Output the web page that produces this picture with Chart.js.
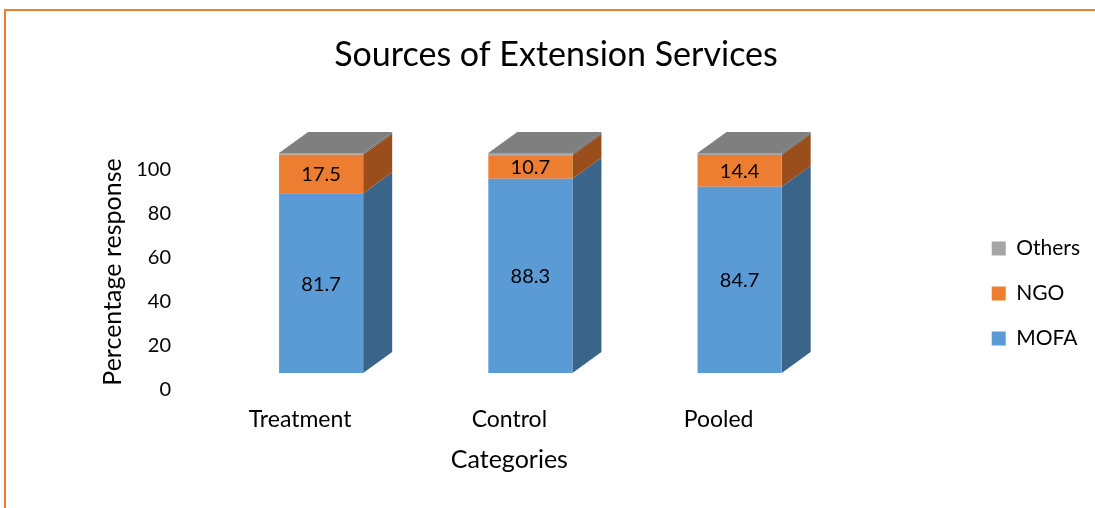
<!DOCTYPE html>
<html>
<head>
<meta charset="utf-8">
<script src="https://cdn.jsdelivr.net/npm/chart.js@4.4.1/dist/chart.umd.min.js"></script>
<style>
  html, body { margin: 0; padding: 0; background: #fff; }
  #wrap { position: relative; width: 1095px; height: 508px; overflow: hidden; }
  #frame { position: absolute; left: 4px; top: 9px; width: 1200px; height: 600px;
           border-left: 2px solid #ED7D31; border-top: 2px solid #ED7D31; }
  canvas { position: absolute; left: 0; top: 0; }
</style>
</head>
<body>
<div id="wrap">
  <div id="frame"></div>
  <canvas id="myChart" width="1095" height="508"></canvas>
</div>
<script>
const categories = ['Treatment', 'Control', 'Pooled'];
const mofa = [81.7, 88.3, 84.7];
const ngo = [17.5, 10.7, 14.4];
const others = [0.8, 1.0, 0.9];
const yTicks = [0, 20, 40, 60, 80, 100];
const xTitle = 'Categories';
const yTitle = 'Percentage response';

const fontName = 'Lato';
const depthX = 29, depthY = 21;
const labelShift = -21;
const sideColors = ['#3A6489', '#9A4E1C', '#6E6E6E'];
const topColor = '#7F7F7F';

// draws the side and top faces so the columns look like boxes,
// plus value labels and the two axis titles
const boxFaces = {
  id: 'boxFaces',
  beforeDatasetsDraw(chart) {
    const ctx = chart.ctx;
    const last = chart.data.datasets.length - 1;
    ctx.save();
    chart.data.datasets.forEach((ds, i) => {
      chart.getDatasetMeta(i).data.forEach(bar => {
        const p = bar.getProps(['x', 'y', 'base', 'width'], true);
        const l = p.x - p.width / 2, r = p.x + p.width / 2;
        ctx.fillStyle = sideColors[i];
        ctx.beginPath();
        ctx.moveTo(r, p.y);
        ctx.lineTo(r + depthX, p.y - depthY);
        ctx.lineTo(r + depthX, p.base - depthY);
        ctx.lineTo(r, p.base);
        ctx.closePath();
        ctx.fill();
        if (i === last) {
          ctx.fillStyle = topColor;
          ctx.beginPath();
          ctx.moveTo(l, p.y);
          ctx.lineTo(l + depthX, p.y - depthY);
          ctx.lineTo(r + depthX, p.y - depthY);
          ctx.lineTo(r, p.y);
          ctx.closePath();
          ctx.fill();
        }
      });
    });
    ctx.restore();
  },
  afterDatasetsDraw(chart) {
    const ctx = chart.ctx;
    ctx.save();
    ctx.font = '20px ' + fontName;
    ctx.fillStyle = '#000';
    ctx.textAlign = 'center';
    ctx.textBaseline = 'middle';
    [0, 1].forEach(i => {
      const values = chart.data.datasets[i].data;
      chart.getDatasetMeta(i).data.forEach((bar, j) => {
        const p = bar.getProps(['x', 'y', 'base'], true);
        ctx.fillText(values[j].toFixed(1), p.x, (p.y + p.base) / 2 + 1);
      });
    });
    ctx.restore();
  },
  afterDraw(chart) {
    const {ctx, chartArea: a, scales} = chart;
    ctx.save();
    ctx.font = '25px ' + fontName;
    ctx.fillStyle = '#000';
    ctx.textAlign = 'center';
    ctx.textBaseline = 'middle';
    ctx.fillText(xTitle, (a.left + a.right) / 2 + labelShift, scales.x.bottom - 48);
    ctx.translate(scales.y.left + 91, (a.top + a.bottom) / 2 + 20);
    ctx.rotate(-Math.PI / 2);
    ctx.fillText(yTitle, 0, 0);
    ctx.restore();
  }
};

const ctx = document.getElementById('myChart');

new Chart(ctx, {
  type: 'bar',
  data: {
    labels: categories,
    datasets: [
      { label: 'MOFA', data: mofa, backgroundColor: '#5B9BD5' },
      { label: 'NGO', data: ngo, backgroundColor: '#ED7D31' },
      { label: 'Others', data: others, backgroundColor: '#A5A5A5' }
    ]
  },
  plugins: [boxFaces],
  options: {
    responsive: false,
    animation: false,
    borderWidth: 0,
    categoryPercentage: 1,
    barPercentage: 0.402,
    layout: { padding: { left: 22, right: 5, top: 0, bottom: 0 } },
    plugins: {
      title: {
        display: true,
        text: 'Sources of Extension Services',
        color: '#000',
        font: { family: fontName, size: 34, weight: 'normal' },
        padding: { top: 34.6, bottom: 55.6 }
      },
      legend: {
        position: 'right',
        align: 'end',
        fullSize: false,
        reverse: true,
        labels: {
          boxWidth: 14,
          boxHeight: 14,
          padding: 24,
          color: '#000',
          font: { family: fontName, size: 21 }
        }
      },
      tooltip: { enabled: false }
    },
    scales: {
      x: {
        stacked: true,
        grid: { display: false, drawTicks: false },
        border: { display: false },
        afterFit: s => { s.height = 135; },
        ticks: { color: '#000', font: { family: fontName, size: 23 }, padding: 33.2, labelOffset: labelShift }
      },
      y: {
        stacked: true,
        min: 0,
        max: 110,
        grid: { display: false, drawTicks: false },
        border: { display: false },
        afterBuildTicks: s => { s.ticks = yTicks.map(v => ({ value: v })); },
        afterFit: s => { s.width = 194.5; },
        ticks: { color: '#000', font: { family: fontName, size: 20 }, padding: 45.5, labelOffset: 17 }
      },
      depth: {
        type: 'linear',
        position: 'right',
        grid: { display: false, drawTicks: false },
        border: { display: false },
        ticks: { display: false },
        afterFit: s => { s.width = 123.5; }
      }
    }
  }
});
</script>
</body>
</html>
